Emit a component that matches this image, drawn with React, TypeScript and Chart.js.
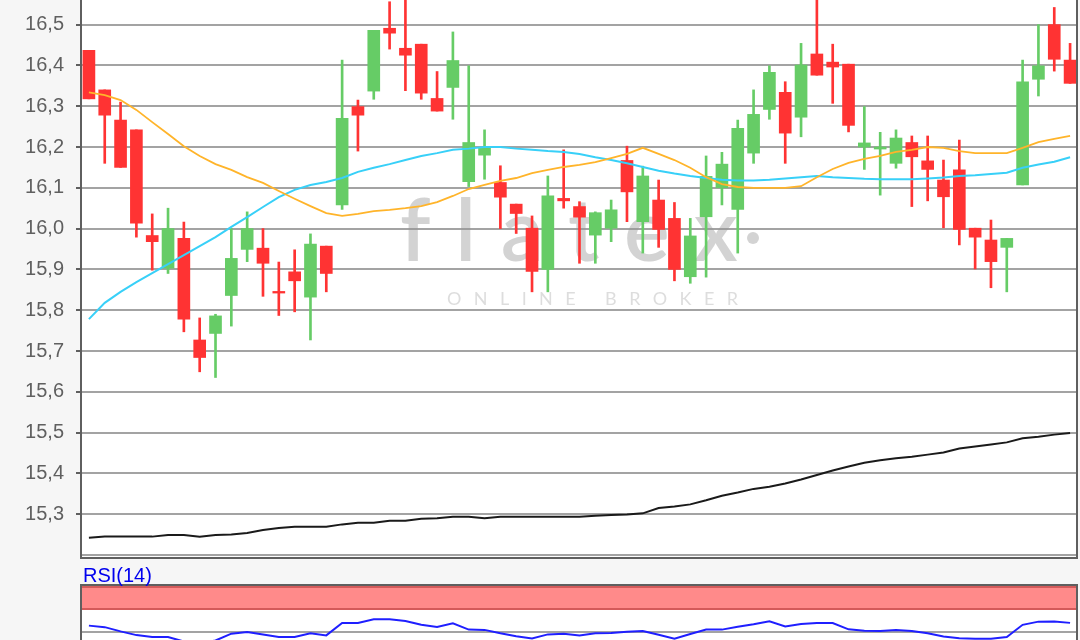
import React, { useEffect, useRef } from 'react';
import { Chart, registerables } from 'chart.js';

Chart.register(...registerables);

// ---- data ----
const opens = [16.437, 16.34, 16.266, 16.242, 15.983, 15.903, 15.976, 15.727, 15.743, 15.836, 15.949, 15.952, 15.846, 15.894, 15.832, 15.957, 16.058, 16.299, 16.337, 16.491, 16.442, 16.452, 16.319, 16.346, 16.115, 16.18, 16.113, 16.06, 16.001, 15.9, 16.074, 16.054, 15.984, 16.001, 16.167, 16.017, 16.07, 16.025, 15.882, 16.029, 16.1, 16.047, 16.185, 16.292, 16.334, 16.273, 16.428, 16.408, 16.403, 16.2, 16.195, 16.16, 16.211, 16.166, 16.119, 16.144, 16.001, 15.972, 15.954, 16.107, 16.366, 16.5, 16.413];
const highs = [16.437, 16.34, 16.31, 16.242, 16.036, 16.05, 16.016, 15.781, 15.79, 16.0, 16.041, 16.0, 15.918, 15.948, 15.987, 15.957, 16.413, 16.315, 16.486, 16.556, 16.58, 16.452, 16.385, 16.482, 16.399, 16.242, 16.154, 16.06, 16.031, 16.129, 16.193, 16.066, 16.041, 16.07, 16.202, 16.153, 16.119, 16.064, 16.025, 16.178, 16.187, 16.266, 16.34, 16.399, 16.36, 16.454, 16.6, 16.452, 16.403, 16.299, 16.236, 16.242, 16.227, 16.227, 16.168, 16.217, 16.001, 16.021, 15.976, 16.413, 16.5, 16.542, 16.454];
const lows = [16.318, 16.16, 16.15, 15.979, 15.898, 15.89, 15.747, 15.649, 15.635, 15.761, 15.919, 15.834, 15.787, 15.796, 15.727, 15.845, 16.047, 16.19, 16.317, 16.44, 16.338, 16.317, 16.288, 16.268, 16.103, 16.121, 16.0, 15.988, 15.845, 15.845, 16.05, 15.915, 15.915, 15.968, 16.017, 15.94, 15.954, 15.872, 15.866, 15.881, 16.058, 15.94, 16.16, 16.268, 16.16, 16.225, 16.376, 16.307, 16.237, 16.145, 16.082, 16.148, 16.054, 16.068, 16.002, 15.96, 15.901, 15.855, 15.845, 16.107, 16.325, 16.386, 16.356];
const closes = [16.318, 16.278, 16.15, 16.013, 15.968, 16.0, 15.778, 15.684, 15.786, 15.927, 16.0, 15.915, 15.842, 15.872, 15.962, 15.89, 16.27, 16.278, 16.486, 16.479, 16.425, 16.332, 16.288, 16.412, 16.211, 16.198, 16.077, 16.037, 15.895, 16.08, 16.068, 16.028, 16.039, 16.046, 16.09, 16.129, 15.998, 15.9, 15.982, 16.128, 16.158, 16.246, 16.28, 16.383, 16.234, 16.401, 16.376, 16.396, 16.253, 16.21, 16.2, 16.222, 16.176, 16.145, 16.078, 15.998, 15.979, 15.919, 15.976, 16.36, 16.399, 16.415, 16.356];

const maFast = [16.334, 16.327, 16.315, 16.291, 16.261, 16.232, 16.202, 16.178, 16.158, 16.144, 16.126, 16.112, 16.092, 16.073, 16.055, 16.038, 16.031, 16.036, 16.043, 16.046, 16.05, 16.055, 16.065, 16.08, 16.097, 16.107, 16.117, 16.124, 16.136, 16.144, 16.151, 16.156, 16.163, 16.173, 16.183, 16.198, 16.183, 16.168, 16.149, 16.126, 16.109, 16.102, 16.1, 16.1, 16.1, 16.104, 16.126, 16.146, 16.161, 16.171, 16.178, 16.188, 16.193, 16.2, 16.198, 16.19, 16.185, 16.185, 16.185, 16.198, 16.212, 16.22, 16.227];
const maMid = [15.778, 15.818, 15.845, 15.869, 15.891, 15.913, 15.935, 15.957, 15.979, 16.004, 16.028, 16.053, 16.077, 16.095, 16.107, 16.114, 16.124, 16.139, 16.149, 16.158, 16.168, 16.178, 16.185, 16.193, 16.196, 16.2, 16.2, 16.196, 16.193, 16.19, 16.188, 16.183, 16.175, 16.168, 16.16, 16.151, 16.142, 16.135, 16.129, 16.124, 16.12, 16.118, 16.118, 16.12, 16.123, 16.126, 16.129, 16.126, 16.124, 16.122, 16.121, 16.121, 16.121, 16.123, 16.125, 16.129, 16.131, 16.134, 16.137, 16.149, 16.157, 16.164, 16.175];
const maLong = [15.242, 15.245, 15.245, 15.245, 15.245, 15.249, 15.249, 15.245, 15.249, 15.25, 15.254, 15.261, 15.266, 15.269, 15.269, 15.269, 15.275, 15.279, 15.279, 15.284, 15.284, 15.289, 15.29, 15.294, 15.294, 15.29, 15.294, 15.294, 15.294, 15.294, 15.294, 15.294, 15.296, 15.298, 15.299, 15.302, 15.315, 15.319, 15.324, 15.334, 15.345, 15.353, 15.362, 15.367, 15.375, 15.385, 15.396, 15.407, 15.417, 15.426, 15.432, 15.437, 15.441, 15.446, 15.451, 15.461, 15.466, 15.471, 15.476, 15.486, 15.49, 15.495, 15.499];
const rsi14 = [56.8, 55.1, 50.3, 46.1, 44.1, 43.9, 39.0, 36.7, 40.1, 47.7, 49.5, 46.9, 44.1, 43.9, 48.3, 45.8, 59.8, 59.8, 64.0, 64.0, 62.0, 57.7, 55.2, 59.5, 52.3, 52.0, 48.1, 44.9, 42.4, 46.9, 47.5, 45.8, 48.1, 48.4, 50.0, 50.7, 46.4, 42.0, 47.4, 52.3, 52.3, 55.5, 58.3, 61.8, 55.8, 58.6, 59.8, 59.8, 52.6, 51.1, 50.7, 52.0, 50.8, 48.3, 44.5, 42.5, 42.0, 42.0, 44.0, 57.7, 61.3, 61.4, 59.9];

const sessions = opens.map((_, i) => `${i + 1}`);

const PRICE_MIN = 15.1926;
const PRICE_MAX = 16.5603;
const PRICE_STEP = 0.1;
const PRICE_LABEL_FROM = 15.3;
const RSI_MIN = 0;
const RSI_MAX = 102.6;
const RSI_STEP = 25;
const RSI_LABELS = [75];
const RSI_GRID = [50, 25];
const RSI_BAND = [75, 100];
const RSI_TITLE = 'RSI(14)';
const WATERMARK = 'flatex';
const WATERMARK_SUB = 'ONLINE BROKER';

const UP = '#66cc66';
const DOWN = '#ff3333';
const FRAME = '#5f5f5f';
const GRID = '#a3a3a3';
const FONT = "'Liberation Sans', Arial, sans-serif";

const candleColors = opens.map((o, i) => (closes[i] >= o ? UP : DOWN));

const fixAxis = (s: any) => {
  s.width = 81;
  s.paddingTop = 0;
  s.paddingBottom = 0;
};

const plotBg = {
  id: 'plotBg',
  beforeDraw(chart: any) {
    const { ctx, chartArea: a } = chart;
    ctx.save();
    ctx.fillStyle = '#ffffff';
    ctx.fillRect(a.left, a.top, a.right - a.left, a.bottom - a.top);
    ctx.restore();
  },
};

const watermark = {
  id: 'watermark',
  beforeDatasetsDraw(chart: any) {
    const { ctx } = chart;
    ctx.save();
    ctx.textBaseline = 'alphabetic';
    ctx.textAlign = 'left';
    ctx.fillStyle = 'rgba(150,150,150,0.42)';
    ctx.font = `600 86px Lato, 'Open Sans', sans-serif`;
    ctx.letterSpacing = '0px';
    const w = ctx.measureText(WATERMARK).width;
    ctx.letterSpacing = `${Math.max(0, (338 - w) / 5)}px`;
    ctx.fillText(WATERMARK, 400, 261);
    ctx.beginPath();
    ctx.arc(753, 238, 6, 0, Math.PI * 2);
    ctx.fill();
    ctx.fillStyle = 'rgba(170,170,170,0.4)';
    ctx.font = `18px Lato, 'Open Sans', sans-serif`;
    ctx.letterSpacing = '0px';
    const w2 = ctx.measureText(WATERMARK_SUB).width;
    ctx.letterSpacing = `${Math.max(0, (291 - w2) / 12)}px`;
    ctx.fillText(WATERMARK_SUB, 447, 305);
    ctx.letterSpacing = '0px';
    ctx.restore();
  },
};

const mainFrame = {
  id: 'mainFrame',
  afterDraw(chart: any) {
    const { ctx, chartArea: a } = chart;
    ctx.save();
    ctx.strokeStyle = FRAME;
    ctx.lineWidth = 2;
    ctx.beginPath();
    ctx.moveTo(a.left, a.top - 2);
    ctx.lineTo(a.left, a.bottom);
    ctx.lineTo(a.right - 1, a.bottom);
    ctx.lineTo(a.right - 1, a.top - 2);
    ctx.stroke();
    ctx.restore();
  },
};

const rsiDecor = {
  id: 'rsiDecor',
  beforeDatasetsDraw(chart: any) {
    const { ctx, chartArea: a, scales } = chart;
    const y = scales.y;
    const yLo = y.getPixelForValue(RSI_BAND[0]);
    const yHi = y.getPixelForValue(RSI_BAND[1]);
    ctx.save();
    ctx.fillStyle = '#ff8a8a';
    ctx.fillRect(a.left, a.top, a.right - a.left, yLo - a.top);
    ctx.strokeStyle = '#d45a5a';
    ctx.lineWidth = 2;
    ctx.beginPath();
    ctx.moveTo(a.left, Math.round(yHi));
    ctx.lineTo(a.right, Math.round(yHi));
    ctx.moveTo(a.left, Math.round(yLo));
    ctx.lineTo(a.right, Math.round(yLo));
    ctx.stroke();
    ctx.restore();
  },
  afterDraw(chart: any) {
    const { ctx, chartArea: a } = chart;
    ctx.save();
    ctx.strokeStyle = FRAME;
    ctx.lineWidth = 2;
    ctx.beginPath();
    ctx.moveTo(a.left, a.bottom + 5);
    ctx.lineTo(a.left, a.top);
    ctx.lineTo(a.right - 1, a.top);
    ctx.lineTo(a.right - 1, a.bottom + 5);
    ctx.stroke();
    ctx.fillStyle = '#0000ee';
    ctx.font = `20px ${FONT}`;
    ctx.textBaseline = 'alphabetic';
    ctx.textAlign = 'left';
    ctx.fillText(RSI_TITLE, 83, 21.5);
    ctx.restore();
  },
};

export default function App() {
  const mainRef = useRef<HTMLCanvasElement | null>(null);
  const rsiRef = useRef<HTMLCanvasElement | null>(null);

  useEffect(() => {
    if (!mainRef.current || !rsiRef.current) return;
    Chart.defaults.font.family = FONT;

    const main = new Chart(mainRef.current, {
      type: 'bar',
      data: {
        labels: sessions,
        datasets: [
          { type: 'line', label: 'MA fast', data: maFast, borderColor: '#ffb42a', borderWidth: 1.8, pointRadius: 0, tension: 0, order: 0 } as any,
          { type: 'line', label: 'MA mid', data: maMid, borderColor: '#38d0f8', borderWidth: 2, pointRadius: 0, tension: 0, order: 0 } as any,
          { type: 'line', label: 'MA long', data: maLong, borderColor: '#1a1a1a', borderWidth: 2, pointRadius: 0, tension: 0, order: 0 } as any,
          { type: 'bar', label: 'body', data: opens.map((o, i) => [o, closes[i]]), backgroundColor: candleColors, barThickness: 12, grouped: false, borderWidth: 0, borderSkipped: false, order: 1 } as any,
          { type: 'bar', label: 'wick', data: lows.map((l, i) => [l, highs[i]]), backgroundColor: candleColors, barThickness: 2, grouped: false, borderWidth: 0, borderSkipped: false, order: 2 } as any,
        ],
      },
      options: {
        animation: false,
        responsive: false,
        events: [],
        layout: { padding: { left: 0, right: 2, top: 0, bottom: 2 } },
        plugins: { legend: { display: false }, tooltip: { enabled: false } },
        scales: {
          x: { type: 'category', display: false, offset: true, grid: { display: false } },
          y: {
            type: 'linear',
            min: PRICE_MIN,
            max: PRICE_MAX,
            beginAtZero: false,
            afterFit: fixAxis,
            border: { display: false },
            grid: {
              color: GRID,
              lineWidth: 2,
              tickLength: 5,
              drawTicks: true,
              tickColor: (c: any) => (c.tick && c.tick.value >= PRICE_LABEL_FROM - 1e-6 ? FRAME : 'rgba(0,0,0,0)'),
            },
            ticks: {
              stepSize: PRICE_STEP,
              includeBounds: false,
              padding: 12,
              color: '#606060',
              font: { size: 20, family: FONT },
              callback: (v: any) => (Number(v) >= PRICE_LABEL_FROM - 1e-6 ? Number(v).toFixed(1).replace('.', ',') : ''),
            },
          },
        },
      } as any,
      plugins: [plotBg, watermark, mainFrame],
    });

    const rsi = new Chart(rsiRef.current, {
      type: 'line',
      data: {
        labels: sessions,
        datasets: [
          { label: RSI_TITLE, data: rsi14, borderColor: '#1f1fff', borderWidth: 2, pointRadius: 0, tension: 0 },
        ],
      },
      options: {
        animation: false,
        responsive: false,
        events: [],
        layout: { padding: { left: 0, right: 2, top: 25, bottom: 2 } },
        plugins: { legend: { display: false }, tooltip: { enabled: false } },
        scales: {
          x: { type: 'category', display: false, offset: true, grid: { display: false } },
          y: {
            type: 'linear',
            min: RSI_MIN,
            max: RSI_MAX,
            afterFit: fixAxis,
            border: { display: false },
            grid: {
              lineWidth: 2,
              tickLength: 5,
              color: (c: any) => (c.tick && RSI_GRID.includes(c.tick.value) ? GRID : 'rgba(0,0,0,0)'),
              tickColor: (c: any) => (c.tick && RSI_LABELS.includes(c.tick.value) ? FRAME : 'rgba(0,0,0,0)'),
            },
            ticks: {
              stepSize: RSI_STEP,
              includeBounds: false,
              padding: 12,
              color: '#606060',
              font: { size: 20, family: FONT },
              callback: (v: any) => (RSI_LABELS.includes(Number(v)) ? String(v) : ''),
            },
          },
        },
      } as any,
      plugins: [plotBg, rsiDecor],
    });

    return () => {
      main.destroy();
      rsi.destroy();
    };
  }, []);

  return (
    <div style={{ position: 'fixed', left: 0, top: 0, width: 1080, height: 640, overflow: 'hidden', background: '#f6f6f6' }}>
      <canvas ref={mainRef} width={1080} height={560} style={{ position: 'absolute', left: 0, top: 0 }} />
      <canvas ref={rsiRef} width={1080} height={118} style={{ position: 'absolute', left: 0, top: 560 }} />
    </div>
  );
}
